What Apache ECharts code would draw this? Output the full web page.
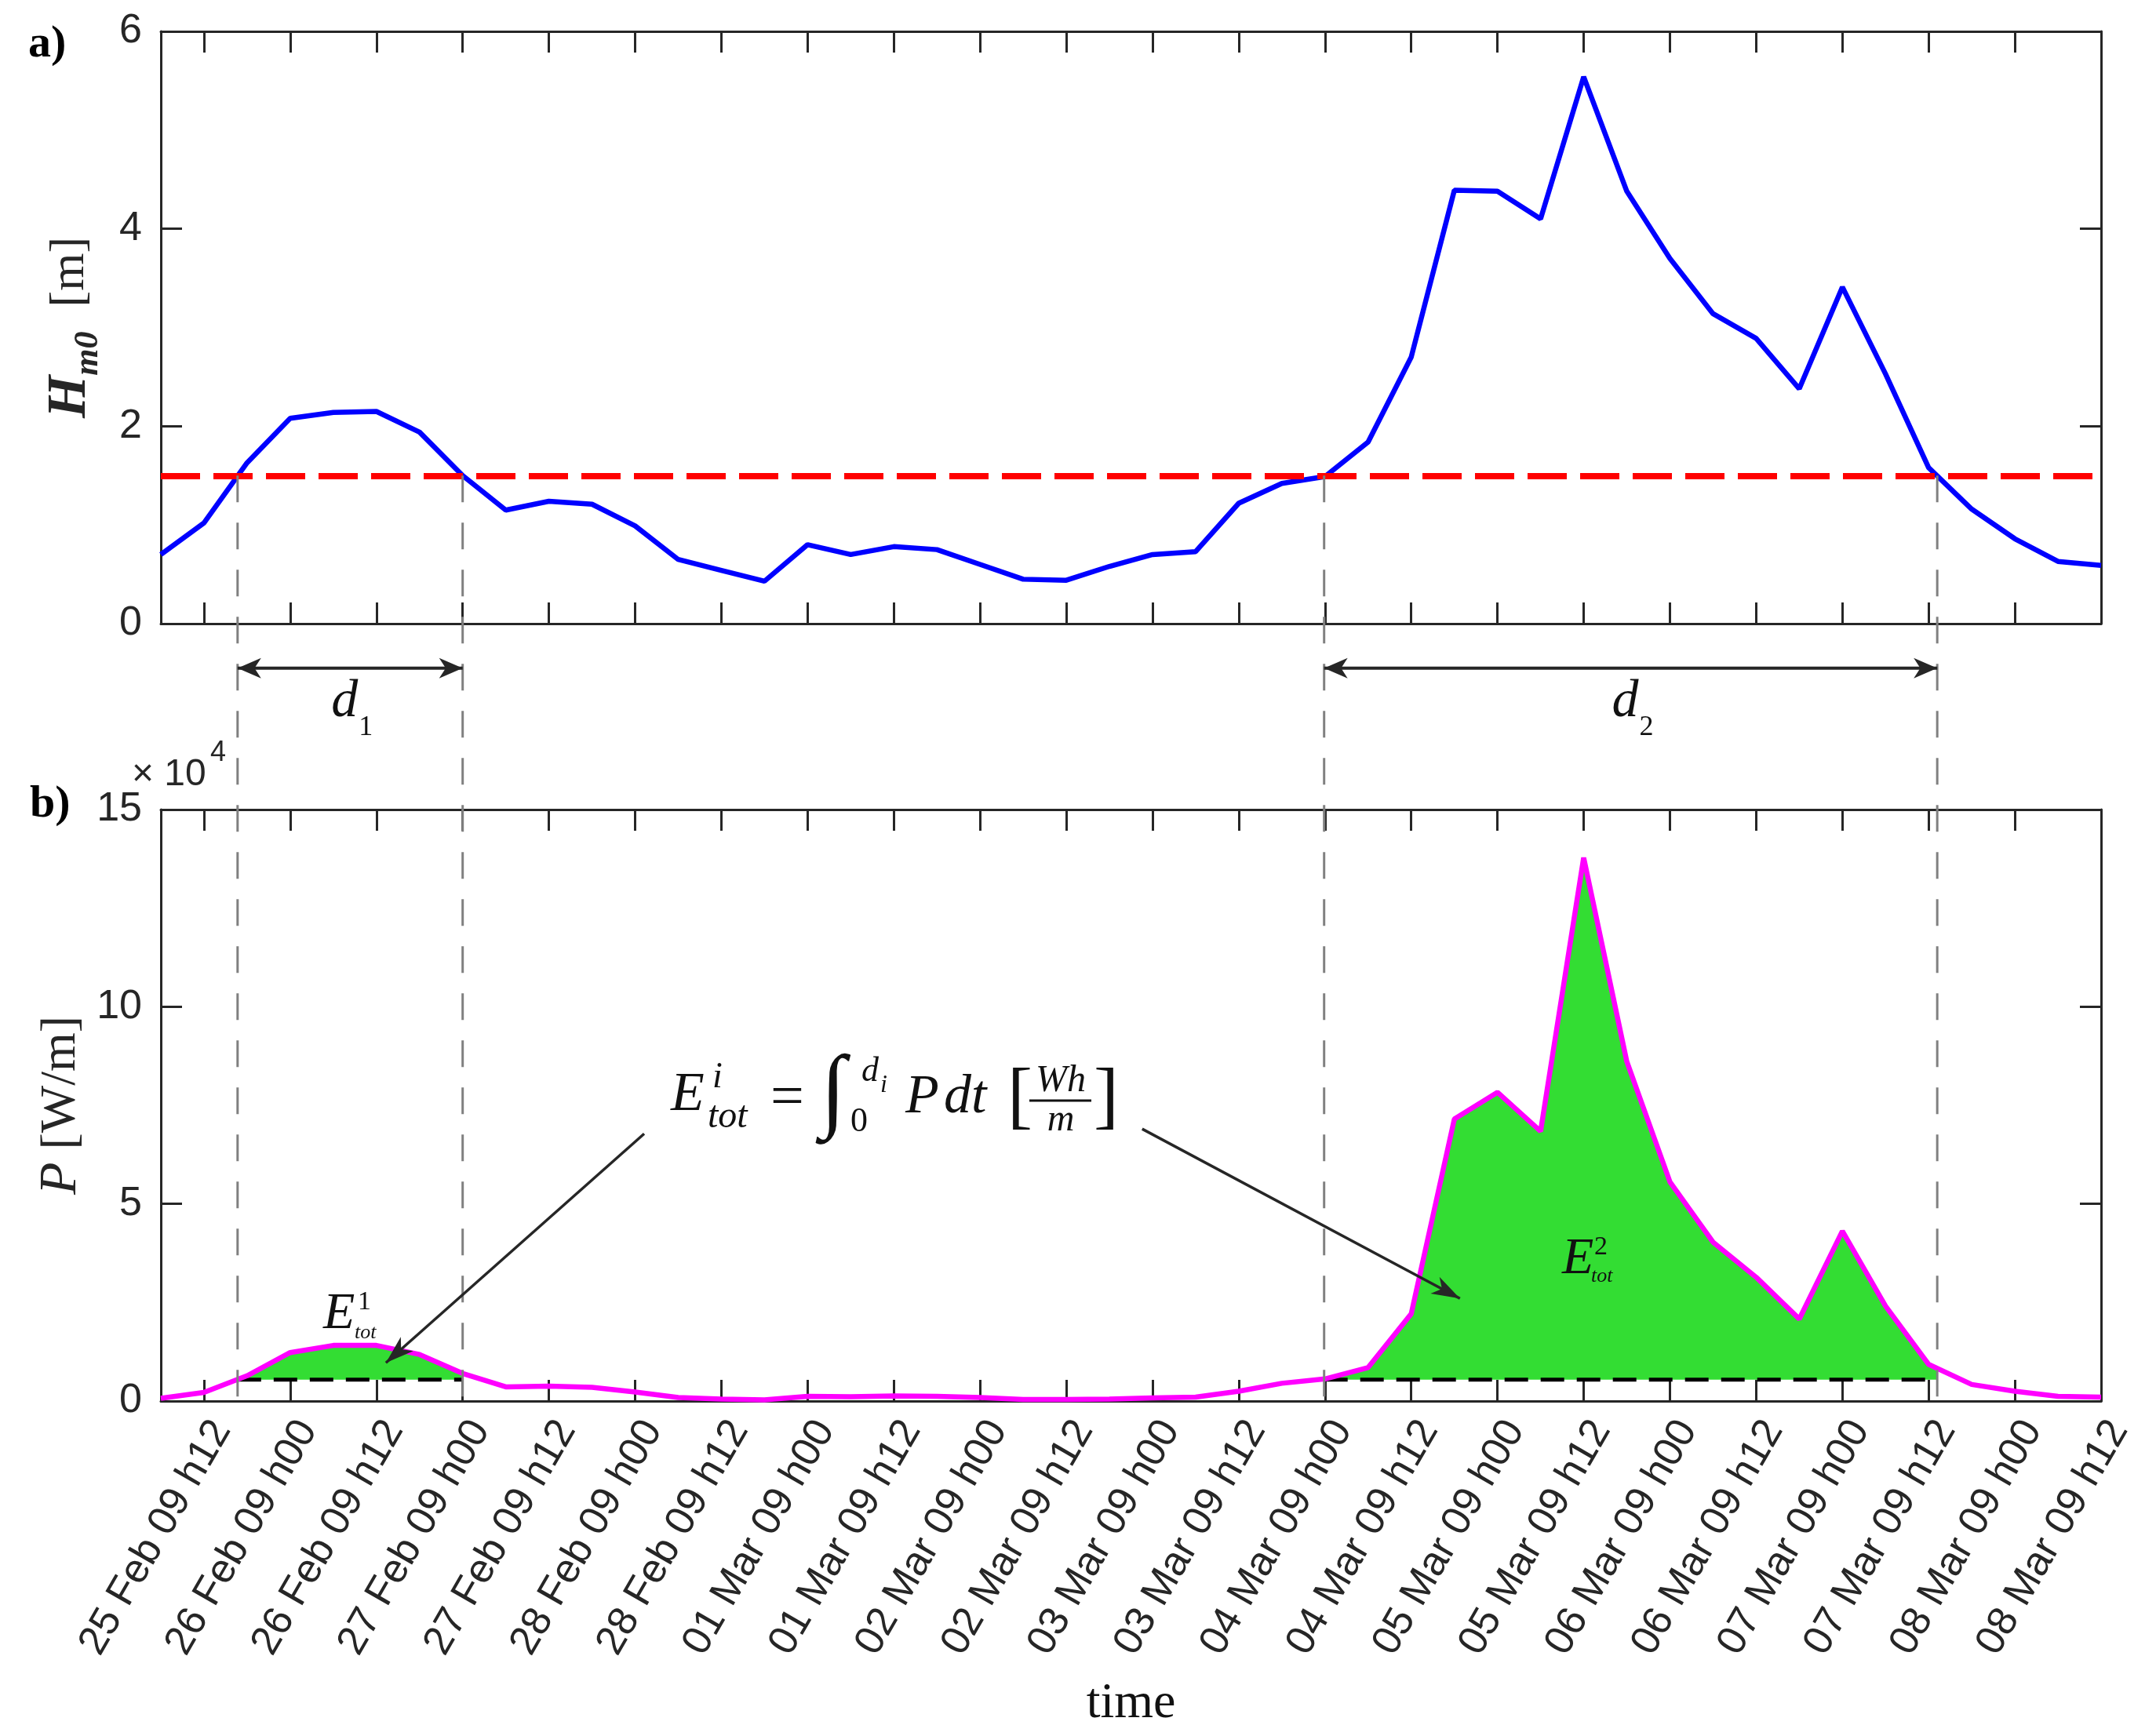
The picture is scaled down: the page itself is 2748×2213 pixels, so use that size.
<!DOCTYPE html>
<html>
<head>
<meta charset="utf-8">
<script src="https://cdn.jsdelivr.net/npm/echarts@6/dist/echarts.min.js"></script>
<style>
  html, body { margin: 0; padding: 0; background: #fff; }
  #chart { width: 2748px; height: 2213px; }
</style>
</head>
<body>
<div id="chart"></div>
<script>
// tick labels, one every 12 h (odd sample index), samples every 6 h
const tickLabels = [
  "25 Feb 09 h12", "26 Feb 09 h00", "26 Feb 09 h12", "27 Feb 09 h00", "27 Feb 09 h12",
  "28 Feb 09 h00", "28 Feb 09 h12", "01 Mar 09 h00", "01 Mar 09 h12", "02 Mar 09 h00",
  "02 Mar 09 h12", "03 Mar 09 h00", "03 Mar 09 h12", "04 Mar 09 h00", "04 Mar 09 h12",
  "05 Mar 09 h00", "05 Mar 09 h12", "06 Mar 09 h00", "06 Mar 09 h12", "07 Mar 09 h00",
  "07 Mar 09 h12", "08 Mar 09 h00", "08 Mar 09 h12"
];

// significant wave height Hm0 [m]
const hm0 = [
  0.70, 1.02, 1.63, 2.08, 2.14, 2.15, 1.94, 1.50, 1.15, 1.24,
  1.21, 0.99, 0.65, 0.54, 0.43, 0.80, 0.70, 0.78, 0.75, 0.60,
  0.45, 0.44, 0.58, 0.70, 0.73, 1.22, 1.42, 1.49, 1.84, 2.70,
  4.39, 4.38, 4.10, 5.54, 4.38, 3.70, 3.14, 2.89, 2.38, 3.41,
  2.53, 1.58, 1.16, 0.86, 0.63, 0.59
];

// wave power P [x 10^4 W/m]
const power = [
  0.07, 0.22, 0.64, 1.23, 1.41, 1.41, 1.18, 0.70, 0.36, 0.38,
  0.35, 0.23, 0.09, 0.05, 0.03, 0.12, 0.11, 0.13, 0.12, 0.09,
  0.04, 0.04, 0.05, 0.08, 0.10, 0.25, 0.45, 0.56, 0.85, 2.21,
  7.15, 7.83, 6.84, 13.78, 8.61, 5.56, 4.03, 3.14, 2.08, 4.31,
  2.41, 0.93, 0.42, 0.25, 0.12, 0.10
];

const threshold = 1.5;                       // Hm0 threshold [m]
const crossings = [1.78, 7.0, 26.98, 41.2];  // sample index where Hm0 crosses threshold
const basePower = 0.54;                      // P at threshold [x 10^4 W/m]
const edgePower = [0.54, 0.70, 0.55, 0.85];  // P at the crossing edges

const axisColor = '#262626';
const cats = hm0.map((v, i) => i % 2 === 1 ? tickLabels[(i - 1) / 2] : '');
const oddOnly = (i) => i % 2 === 1;

function catAxis(grid, pos, showLabels, extra) {
  return Object.assign({
    type: 'category', gridIndex: grid, position: pos, data: cats, boundaryGap: false,
    axisLine: { show: true, onZero: false, lineStyle: { color: axisColor, width: 3 } },
    axisTick: { show: true, inside: true, length: 27, interval: oddOnly, lineStyle: { color: axisColor, width: 3 } },
    axisLabel: {
      show: showLabels, interval: oddOnly, rotate: 60, align: 'right', verticalAlign: 'top',
      margin: 16, color: axisColor, fontSize: 52, fontFamily: 'Liberation Sans'
    },
    splitLine: { show: false }
  }, extra || {});
}

function valAxis(grid, pos, max, step, showLabels, extra) {
  return Object.assign({
    type: 'value', gridIndex: grid, position: pos, min: 0, max: max, interval: step,
    axisLine: { show: true, onZero: false, lineStyle: { color: axisColor, width: 3 } },
    axisTick: { show: true, inside: true, length: 27, lineStyle: { color: axisColor, width: 3 } },
    axisLabel: { show: showLabels, margin: 24, color: axisColor, fontSize: 52, fontFamily: 'Liberation Sans' },
    splitLine: { show: false }
  }, extra || {});
}

// fill polygons between baseline and curve, inside the crossing windows
function fillData(a, b) {
  const out = [[crossings[a], edgePower[a]]];
  power.forEach((v, i) => { if (i > crossings[a] && i < crossings[b]) out.push([i, v]); });
  out.push([crossings[b], edgePower[b]]);
  return out;
}

const serif = 'Liberation Serif';

const option = {
  animation: false,
  backgroundColor: '#ffffff',
  grid: [
    { left: 205, right: 70, top: 40, height: 755 },
    { left: 205, right: 70, top: 1032, height: 754 }
  ],
  xAxis: [
    catAxis(0, 'bottom', false),
    catAxis(0, 'top', false),
    { type: 'value', gridIndex: 0, min: 0, max: 45, show: false },
    catAxis(1, 'bottom', true, {
      name: 'time', nameLocation: 'middle', nameGap: 354,
      nameTextStyle: { fontFamily: serif, fontSize: 64, color: '#111' }
    }),
    catAxis(1, 'top', false),
    { type: 'value', gridIndex: 1, min: 0, max: 45, show: false }
  ],
  yAxis: [
    valAxis(0, 'left', 6, 2, true, {
      name: '{h|H}{s|m0}{u|  [m]}', nameLocation: 'middle', nameGap: 70,
      nameTextStyle: {
        color: '#262626',
        rich: {
          h: { fontFamily: serif, fontStyle: 'italic', fontWeight: 'bold', fontSize: 70, lineHeight: 90, verticalAlign: 'middle', color: '#262626' },
          s: { fontFamily: serif, fontStyle: 'italic', fontWeight: 'bold', fontSize: 44, lineHeight: 40, verticalAlign: 'bottom', color: '#262626' },
          u: { fontFamily: serif, fontSize: 62, lineHeight: 90, verticalAlign: 'middle', color: '#262626' }
        }
      }
    }),
    valAxis(0, 'right', 6, 2, false),
    valAxis(1, 'left', 15, 5, true, {
      name: '{p|P}{u| [W/m]}', nameLocation: 'middle', nameGap: 82,
      nameTextStyle: {
        color: '#262626',
        rich: {
          p: { fontFamily: serif, fontStyle: 'italic', fontSize: 68, lineHeight: 84, verticalAlign: 'middle', color: '#262626' },
          u: { fontFamily: serif, fontSize: 64, lineHeight: 84, verticalAlign: 'middle', color: '#262626' }
        }
      }
    }),
    valAxis(1, 'right', 15, 5, false)
  ],
  series: [
    {
      type: 'line', name: 'Hm0', xAxisIndex: 0, yAxisIndex: 0, data: hm0, symbol: 'none', z: 4,
      lineStyle: { color: '#0000ff', width: 6.5 },
      markLine: {
        silent: true, symbol: 'none', label: { show: false },
        lineStyle: { color: '#ff0000', width: 8, type: [50, 17] },
        data: [{ yAxis: threshold }]
      }
    },
    {
      type: 'line', name: 'E1', xAxisIndex: 5, yAxisIndex: 2, data: fillData(0, 1), symbol: 'none', z: 2,
      lineStyle: { width: 0 }, areaStyle: { color: '#33dd33', opacity: 1, origin: basePower }
    },
    {
      type: 'line', name: 'E2', xAxisIndex: 5, yAxisIndex: 2, data: fillData(2, 3), symbol: 'none', z: 2,
      lineStyle: { width: 0 }, areaStyle: { color: '#33dd33', opacity: 1, origin: basePower }
    },
    {
      type: 'line', name: 'base1', xAxisIndex: 5, yAxisIndex: 2, symbol: 'none', z: 3,
      data: [[crossings[0], basePower], [crossings[1], basePower]],
      lineStyle: { color: '#000', width: 5, type: [30, 16] }
    },
    {
      type: 'line', name: 'base2', xAxisIndex: 5, yAxisIndex: 2, symbol: 'none', z: 3,
      data: [[crossings[2], basePower], [crossings[3], basePower]],
      lineStyle: { color: '#000', width: 5, type: [30, 16] }
    },
    {
      type: 'line', name: 'P', xAxisIndex: 3, yAxisIndex: 2, data: power, symbol: 'none', z: 5,
      lineStyle: { color: '#ff00ff', width: 6.5 }
    }
  ]
};

const chart = echarts.init(document.getElementById('chart'));
chart.setOption(option);

// ---- annotations placed through the axes ----
const topPx = (x, y) => chart.convertToPixel({ xAxisIndex: 2, yAxisIndex: 0 }, [x, y]);
const botPx = (x, y) => chart.convertToPixel({ xAxisIndex: 5, yAxisIndex: 2 }, [x, y]);

function head(tip, from, len, half) {
  const dx = tip[0] - from[0], dy = tip[1] - from[1];
  const L = Math.hypot(dx, dy), ux = dx / L, uy = dy / L, nx = -uy, ny = ux;
  const bx = tip[0] - ux * len, by = tip[1] - uy * len;
  return {
    type: 'polygon', z: 100,
    shape: { points: [tip, [bx + nx * half, by + ny * half], [tip[0] - ux * len * 0.72, tip[1] - uy * len * 0.72], [bx - nx * half, by - ny * half]] },
    style: { fill: axisColor }
  };
}
function seg(p, q, w) {
  return { type: 'line', z: 100, shape: { x1: p[0], y1: p[1], x2: q[0], y2: q[1] }, style: { stroke: axisColor, lineWidth: w } };
}
function txt(t, x, y, size, opts) {
  opts = opts || {};
  return {
    type: 'text', z: 100, x: x, y: y,
    style: {
      text: t, fontSize: size, fontFamily: opts.family || serif,
      fontStyle: opts.italic ? 'italic' : 'normal', fontWeight: opts.bold ? 'bold' : 'normal',
      fill: opts.color || '#111', align: opts.align || 'left', verticalAlign: 'middle'
    }
  };
}

const g = [];
// vertical dashed lines at the crossings
crossings.forEach(c => {
  const p = topPx(c, threshold), q = botPx(c, 0);
  g.push({ type: 'line', z: 90, shape: { x1: p[0], y1: p[1], x2: q[0], y2: q[1] },
    style: { stroke: '#808080', lineWidth: 3, lineDash: [34, 26] } });
});
// duration arrows d1, d2
const dLevel = -0.45;
[[0, 1, '1'], [2, 3, '2']].forEach(([a, b, k]) => {
  const p = topPx(crossings[a], dLevel), q = topPx(crossings[b], dLevel);
  g.push(seg(p, q, 4));
  g.push(head(p, q, 30, 13));
  g.push(head(q, p, 30, 13));
  const mx = (p[0] + q[0]) / 2 - 4;
  g.push(txt('d', mx - 20, p[1] + 43, 68, { italic: true }));
  g.push(txt(k, mx + 15, p[1] + 76, 36));
});
// formula arrows
const a1s = botPx(11.21, 6.78), a1e = botPx(5.22, 0.97);
const a2s = botPx(22.76, 6.90), a2e = botPx(30.13, 2.6);
g.push(seg(a1s, a1e, 3.5), head(a1e, a1s, 36, 12));
g.push(seg(a2s, a2e, 3.5), head(a2e, a2s, 36, 12));

// formula text
g.push(
  txt('E', 855, 1397, 70, { italic: true }),
  txt('i', 908, 1374, 46, { italic: true }),
  txt('tot', 902, 1424, 48, { italic: true }),
  txt('=', 982, 1402, 76),
  txt('\u222B', 1046, 1396, 118, { italic: true }),
  txt('d', 1098, 1366, 44, { italic: true }),
  txt('i', 1122, 1384, 32, { italic: true }),
  txt('0', 1084, 1430, 44),
  txt('P', 1154, 1400, 70, { italic: true }),
  txt('dt', 1203, 1400, 70, { italic: true }),
  txt('[', 1284, 1402, 96),
  txt('Wh', 1352, 1378, 48, { italic: true, align: 'center' }),
  txt('m', 1352, 1428, 48, { italic: true, align: 'center' }),
  txt(']', 1394, 1402, 96),
  { type: 'line', z: 100, shape: { x1: 1312, y1: 1403, x2: 1391, y2: 1403 }, style: { stroke: '#111', lineWidth: 3 } }
);
// energy labels
g.push(
  txt('E', 412, 1676, 66, { italic: true }),
  txt('1', 456, 1660, 34),
  txt('tot', 452, 1699, 26, { italic: true }),
  txt('E', 1991, 1606, 66, { italic: true }),
  txt('2', 2032, 1590, 34),
  txt('tot', 2028, 1627, 26, { italic: true })
);
// panel letters and exponent
g.push(
  txt('a)', 36, 57, 58, { bold: true, color: '#000' }),
  txt('b)', 38, 1026, 58, { bold: true, color: '#000' }),
  txt('\u00D7 10', 168, 988, 48, { family: 'Liberation Sans', color: axisColor }),
  txt('4', 268, 960, 36, { family: 'Liberation Sans', color: axisColor })
);

chart.setOption({ graphic: g });
</script>
</body>
</html>
